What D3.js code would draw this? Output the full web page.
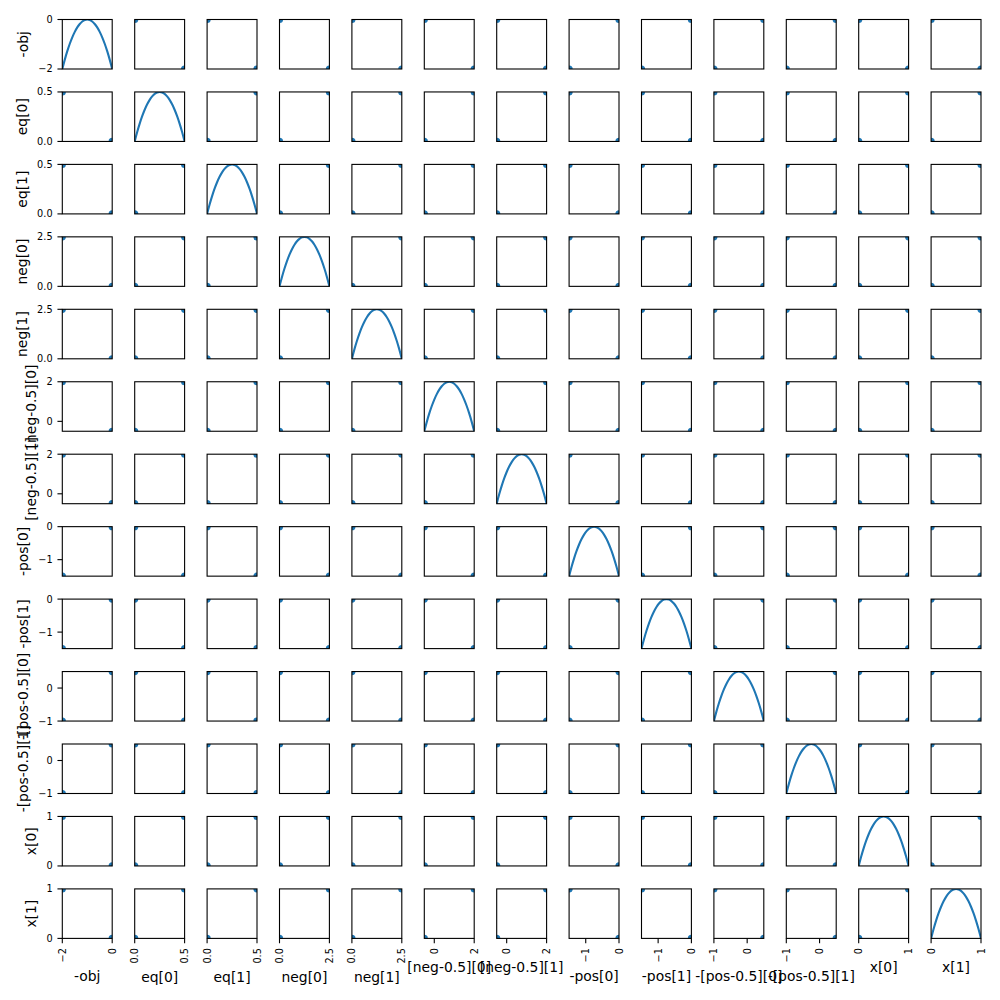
<!DOCTYPE html>
<html>
<head>
<meta charset="utf-8">
<script src="https://cdn.jsdelivr.net/npm/d3@7"></script>
<style>
  html, body { margin: 0; padding: 0; background: #fff; }
  svg { display: block; }
  text { font-family: "DejaVu Sans", sans-serif; fill: #000; }
</style>
</head>
<body>
<svg id="chart" width="1000" height="1000"></svg>
<script>
// ---- data ----
const varNames = ["-obj", "eq[0]", "eq[1]", "neg[0]", "neg[1]", "[neg-0.5][0]", "[neg-0.5][1]",
                  "-pos[0]", "-pos[1]", "-[pos-0.5][0]", "-[pos-0.5][1]", "x[0]", "x[1]"];
// two samples (x = 0 and x = 1)
const sampleA = [0, 0, 0, 0, 0, -0.5, -0.5, 0, 0, 0.5, 0.5, 0, 0];
const sampleB = [-2, 0.5, 0.5, 2.5, 2.5, 2, 2, -1.5, -1.5, -1, -1, 1, 1];
const tickValues = [[-2, 0], [0, 0.5], [0, 0.5], [0, 2.5], [0, 2.5], [0, 2], [0, 2],
                    [-1, 0], [-1, 0], [-1, 0], [-1, 0], [0, 1], [0, 1]];
const tickLabels = [["\u22122", "0"], ["0.0", "0.5"], ["0.0", "0.5"], ["0.0", "2.5"], ["0.0", "2.5"],
                    ["0", "2"], ["0", "2"], ["\u22121", "0"], ["\u22121", "0"], ["\u22121", "0"], ["\u22121", "0"],
                    ["0", "1"], ["0", "1"]];
// diagonal curve: relative position along the axis and relative height
const diagPos    = [0, 0.05, 0.1, 0.15, 0.2, 0.25, 0.3, 0.35, 0.4, 0.45, 0.5, 0.55, 0.6, 0.65, 0.7, 0.75, 0.8, 0.85, 0.9, 0.95, 1];
const diagHeight = [0, 0.19, 0.36, 0.51, 0.64, 0.75, 0.84, 0.91, 0.96, 0.99, 1, 0.99, 0.96, 0.91, 0.84, 0.75, 0.64, 0.51, 0.36, 0.19, 0];

// ---- layout ----
const n = varNames.length;
const x0 = 62.3, sx = 72.4, cw = 49.9;
const y0 = 19.5, sy = 72.45, ch = 49.5;
const blue = "#1f77b4";
const tickFont = 9.72, labelFont = 13.9;
const tickLen = 4.86, tickPad = 4.86, labelPad = 5.6;

const svg = d3.select("#chart");
const defs = svg.append("defs");

const domains = varNames.map((v, i) => d3.extent([sampleA[i], sampleB[i]]));
const samples = [sampleA, sampleB];

// measure helper
const measure = svg.append("text").attr("font-size", tickFont).attr("visibility", "hidden");
function textLen(s, size) {
  measure.attr("font-size", size).text(s);
  return measure.node().getComputedTextLength();
}

for (let i = 0; i < n; i++) {       // rows (y variable)
  for (let j = 0; j < n; j++) {     // cols (x variable)
    const left = x0 + j * sx, top = y0 + i * sy;
    const xs = d3.scaleLinear().domain(domains[j]).range([left, left + cw]);
    const ys = d3.scaleLinear().domain(domains[i]).range([top + ch, top]);
    const clipId = `clip-${i}-${j}`;
    defs.append("clipPath").attr("id", clipId)
      .append("rect").attr("x", left).attr("y", top).attr("width", cw).attr("height", ch);
    const g = svg.append("g");
    const inner = g.append("g").attr("clip-path", `url(#${clipId})`);
    if (i === j) {
      const pts = diagPos.map((p, k) => [
        domains[j][0] + p * (domains[j][1] - domains[j][0]),
        domains[i][0] + diagHeight[k] * (domains[i][1] - domains[i][0])
      ]);
      const line = d3.line().x(d => xs(d[0])).y(d => ys(d[1])).curve(d3.curveCatmullRom);
      inner.append("path").attr("d", line(pts))
        .attr("fill", "none").attr("stroke", blue).attr("stroke-width", 2.1);
    } else {
      inner.selectAll("circle").data(samples).join("circle")
        .attr("cx", s => xs(s[j])).attr("cy", s => ys(s[i]))
        .attr("r", 3.6).attr("fill", blue);
    }
    g.append("rect").attr("x", left).attr("y", top).attr("width", cw).attr("height", ch)
      .attr("fill", "none").attr("stroke", "#000").attr("stroke-width", 1.1);

    // y axis (first column)
    if (j === 0) {
      const yAxis = g.append("g");
      tickValues[i].forEach((tv, k) => {
        const ty = ys(tv);
        yAxis.append("line").attr("x1", left - tickLen).attr("x2", left)
          .attr("y1", ty).attr("y2", ty).attr("stroke", "#000").attr("stroke-width", 1.1);
        yAxis.append("text").attr("x", left - tickLen - tickPad).attr("y", ty)
          .attr("dy", "0.36em").attr("text-anchor", "end").attr("font-size", tickFont)
          .text(tickLabels[i][k]);
      });
      const maxLen = d3.max(tickLabels[i], s => textLen(s, tickFont));
      const bx = left - tickLen - tickPad - maxLen - labelPad - 0.236 * labelFont - 1.5;
      yAxis.append("text").attr("transform", `translate(${bx},${top + ch / 2}) rotate(-90)`)
        .attr("text-anchor", "middle").attr("font-size", labelFont).text(varNames[i]);
    }
    // x axis (last row)
    if (i === n - 1) {
      const xAxis = g.append("g");
      const bottom = top + ch;
      tickValues[j].forEach((tv, k) => {
        const tx = xs(tv);
        xAxis.append("line").attr("x1", tx).attr("x2", tx)
          .attr("y1", bottom).attr("y2", bottom + tickLen).attr("stroke", "#000").attr("stroke-width", 1.1);
        xAxis.append("text").attr("transform", `translate(${tx},${bottom + tickLen + tickPad}) rotate(-90)`)
          .attr("dy", "0.36em").attr("text-anchor", "end").attr("font-size", tickFont)
          .text(tickLabels[j][k]);
      });
      const maxLen = d3.max(tickLabels[j], s => textLen(s, tickFont));
      const by = bottom + tickLen + tickPad + maxLen + labelPad + 0.76 * labelFont + 2;
      xAxis.append("text").attr("x", left + cw / 2).attr("y", by)
        .attr("text-anchor", "middle").attr("font-size", labelFont).text(varNames[j]);
    }
  }
}
measure.remove();
</script>
</body>
</html>
